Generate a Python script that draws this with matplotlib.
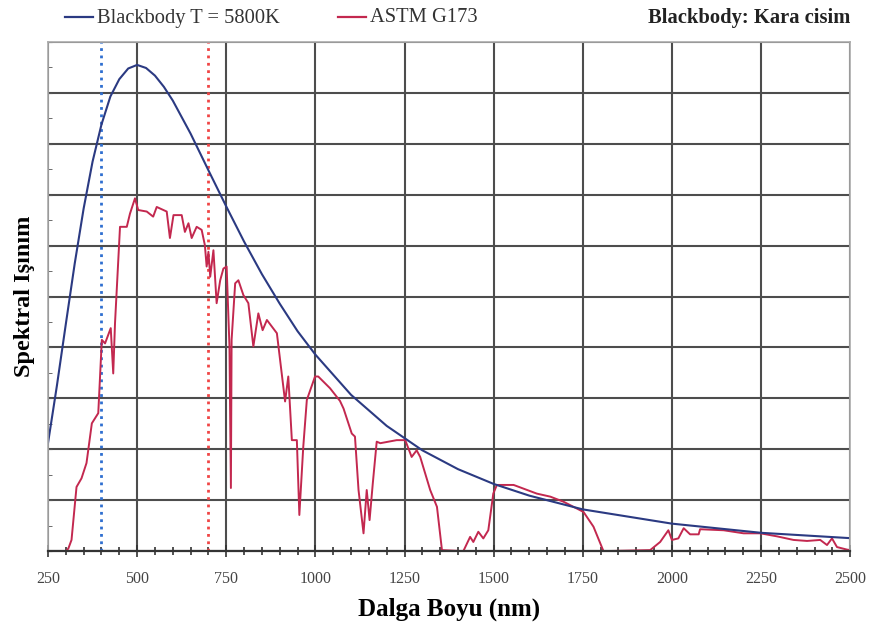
import matplotlib.pyplot as plt
from matplotlib.lines import Line2D
from matplotlib.ticker import MultipleLocator

# Blackbody T = 5800K (relative units, 10 grid steps on y)
bb_nm = [250, 275, 300, 325, 350, 375, 400, 425, 450, 475, 500, 525, 550, 575,
         600, 650, 700, 750, 800, 850, 900, 950, 1000, 1100, 1200, 1300, 1400,
         1500, 1600, 1750, 2000, 2250, 2500]
bb_val = [2.12, 3.25, 4.46, 5.65, 6.73, 7.65, 8.38, 8.93, 9.27, 9.48, 9.55, 9.49,
          9.34, 9.12, 8.85, 8.20, 7.48, 6.77, 6.08, 5.44, 4.86, 4.32, 3.86, 3.07,
          2.46, 1.98, 1.61, 1.32, 1.09, 0.82, 0.54, 0.36, 0.255]

# ASTM G173 spectrum
astm_nm = [250, 300, 307, 316, 330, 344, 358, 373, 391, 401, 410, 426, 433, 438,
           452, 471, 480, 494, 503, 527, 545, 555, 583, 592, 602, 625, 634, 644,
           653, 667, 681, 690, 695, 700, 705, 714, 723, 733, 742, 751, 759, 763,
           765, 775, 784, 798, 812, 826, 840, 852, 864, 892, 915, 924, 934, 948,
           955, 966, 976, 999, 1008, 1041, 1069, 1079, 1102, 1111, 1121, 1135,
           1144, 1152, 1161, 1172, 1182, 1228, 1252, 1270, 1284, 1294, 1322, 1341,
           1355, 1415, 1434, 1443, 1457, 1471, 1485, 1499, 1509, 1556, 1621, 1659,
           1696, 1752, 1780, 1808, 1939, 1967, 1990, 2000, 2018, 2033, 2051, 2075,
           2079, 2145, 2201, 2248, 2295, 2341, 2379, 2416, 2435, 2449, 2463, 2491,
           2500]
astm_val = [0, 0, 0.05, 0.22, 1.26, 1.43, 1.73, 2.51, 2.71, 4.15, 4.08, 4.38, 3.49,
            4.48, 6.37, 6.37, 6.63, 6.93, 6.70, 6.67, 6.57, 6.76, 6.67, 6.15, 6.60,
            6.60, 6.27, 6.44, 6.15, 6.37, 6.31, 6.01, 5.59, 5.88, 5.39, 5.91, 4.87,
            5.32, 5.55, 5.59, 4.02, 1.24, 4.15, 5.26, 5.32, 5.03, 4.87, 4.02, 4.67,
            4.34, 4.54, 4.28, 2.94, 3.43, 2.18, 2.18, 0.71, 2.05, 2.97, 3.43, 3.43,
            3.20, 2.95, 2.80, 2.31, 2.25, 1.20, 0.35, 1.20, 0.61, 1.33, 2.15, 2.12,
            2.18, 2.18, 1.85, 1.98, 1.85, 1.20, 0.87, 0.02, 0, 0.28, 0.18, 0.38,
            0.25, 0.41, 1.13, 1.30, 1.30, 1.13, 1.07, 0.97, 0.77, 0.48, 0, 0.02,
            0.18, 0.41, 0.22, 0.25, 0.45, 0.33, 0.33, 0.43, 0.41, 0.35, 0.35, 0.29,
            0.22, 0.20, 0.22, 0.12, 0.25, 0.08, 0.03, 0.02]

visible_edges = [398, 698]
x_ticks = [250, 500, 750, 1000, 1250, 1500, 1750, 2000, 2250, 2500]

serif = ['Liberation Serif', 'DejaVu Serif']

fig = plt.figure(figsize=(8.71, 6.27), dpi=100)
ax = fig.add_axes([0.0551, 0.121, 0.921, 0.812])

ax.set_xlim(250, 2500)
ax.set_ylim(0, 10)
ax.set_xticks(x_ticks)
ax.xaxis.set_minor_locator(MultipleLocator(50))
ax.set_yticks(range(0, 11))
ax.yaxis.set_minor_locator(MultipleLocator(0.5))
ax.set_yticklabels([])
ax.grid(True, which='major', color='#4d4d4d', linewidth=1.5)
ax.set_axisbelow(True)

for side in ['top', 'right', 'left']:
    ax.spines[side].set_color('#aaaaaa')
    ax.spines[side].set_linewidth(1.2)
ax.spines['bottom'].set_color('#333333')
ax.spines['bottom'].set_linewidth(1.6)

ax.tick_params(axis='x', which='both', direction='inout', colors='#333333',
               labelcolor='#444444', labelsize=11.5, pad=10)
ax.tick_params(axis='x', which='major', length=8, width=1.2)
ax.tick_params(axis='x', which='minor', length=6, width=1.2)
ax.tick_params(axis='y', which='both', direction='in', length=3, colors='#555555')
for lbl in ax.get_xticklabels():
    lbl.set_family(serif)

ax.axvline(visible_edges[0], color='#2f6fd0', linestyle=':', linewidth=2)
ax.axvline(visible_edges[1], color='#f04545', linestyle=':', linewidth=2)

ax.plot(astm_nm, astm_val, color='#c3284f', linewidth=1.4)
ax.plot(bb_nm, bb_val, color='#2b3a82', linewidth=1.5)

ax.set_xlabel('Dalga Boyu (nm)', family=serif, fontsize=18, fontweight='bold',
              labelpad=8)
ax.set_ylabel('Spektral Işınım', family=serif, fontsize=17.5, fontweight='bold',
              labelpad=6)

# legend line and texts along the top
y_top = 1 - 18 / 627
fig.add_artist(Line2D([65 / 871, 93 / 871], [1 - 17 / 627] * 2,
                      color='#2b3a82', linewidth=1.6))
fig.text(97 / 871, y_top, 'Blackbody T = 5800K', family=serif,
         fontsize=14.8, color='#333333', va='center')
fig.add_artist(Line2D([338 / 871, 366 / 871], [1 - 17 / 627] * 2,
                      color='#c3284f', linewidth=1.6))
fig.text(370 / 871, y_top, 'ASTM G173', family=serif,
         fontsize=14.8, color='#333333', va='center')
fig.text(850 / 871, y_top, 'Blackbody: Kara cisim', family=serif,
         fontsize=14.8, fontweight='bold', color='#222222', va='center',
         ha='right')

fig.savefig('out.png', dpi=100)
